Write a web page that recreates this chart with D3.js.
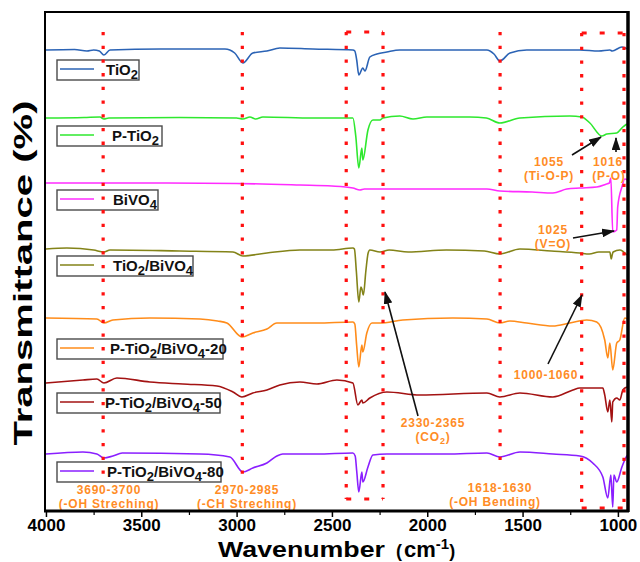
<!DOCTYPE html>
<html>
<head>
<meta charset="utf-8">
<script src="https://cdn.jsdelivr.net/npm/d3@7"></script>
<style>
  body { margin: 0; background: #fff; }
  svg { display: block; }
  text { font-family: "Liberation Sans", Arial, Helvetica, sans-serif; font-weight: bold; }
</style>
</head>
<body>
<svg id="chart" width="640" height="562"></svg>
<script>
// ---- data: FTIR spectra, [wavenumber (cm-1), stacked transmittance (a.u.)] ----
const wavenumberTicks = [4000, 3500, 3000, 2500, 2000, 1500, 1000];
const minorTicks = [3750, 3250, 2750, 2250, 1750, 1250];

const seriesNames = ["TiO_2", "P-TiO_2", "BiVO_4", "TiO_2/BiVO_4",
  "P-TiO_2/BiVO_4-20", "P-TiO_2/BiVO_4-50", "P-TiO_2/BiVO_4-80"];

const tio2 = [[4000,461],[3850,461.5],[3785,460],[3750,461],[3720,460],[3696,456],[3664,461],[3400,462],
  [3061,462],[3010,458],[2967,448],[2915,458],[2841,460],[2773,463],[2600,462],[2390,461],[2380,460],
  [2370,451],[2359,436],[2338,443],[2327,440],[2301,454],[2264,457],[2212,459],[2144,461],[1900,461],
  [1687,461],[1650,457],[1619,450],[1566,458],[1478,461],[1200,461],[1100,460],[1042,461],[1030,460],
  [979,464],[948,462]];

const pTio2 = [[4000,393],[3800,393.5],[3717,394],[3696,392],[3670,393],[3300,393.5],[3000,393],[2967,392],
  [2930,394],[2900,392],[2862,394],[2600,393],[2390,393],[2375,375],[2359,343],[2343,363],[2338,351],
  [2311,381],[2285,391],[2248,391],[2233,393],[2144,395],[2075,392],[2002,394],[1777,394],[1690,393],
  [1619,388],[1514,393],[1252,395],[1189,394],[1147,388],[1084,375],[1058,377],[1006,378],[974,384],[953,387]];

const bivo4 = [[4000,328],[3500,328],[3000,327.5],[2668,326],[2500,325],[2390,323],[2353,321],[2330,322],
  [2039,322],[1687,322],[1619,320],[1450,319],[1341,318],[1268,322],[1200,323],[1111,324],[1060,327],
  [1045,328],[1037,333],[1027,279],[1006,281],[1001,304],[979,324],[964,332],[948,331]];

const tio2Bivo4 = [[4000,262],[3890,263],[3750,261],[3696,259],[3664,261],[3300,260],[3019,259],[2967,255],
  [2841,258],[2668,261],[2500,261],[2390,263],[2382,262],[2372,240],[2359,209],[2348,224],[2343,222],
  [2335,216],[2322,240],[2310,258],[2301,261],[2248,259],[2200,261],[2100,259],[1900,261],[1700,260],
  [1619,257],[1514,262],[1350,260],[1200,258],[1150,257],[1100,259],[1042,259],[1035,252],[1030,256],
  [1025,259],[990,261],[953,256]];

const pTio2Bivo4_20 = [[4000,193],[3733,192],[3696,188],[3649,191],[3455,193],[3192,192],[3100,190],
  [3051,188],[2972,174],[2915,178],[2841,182],[2789,188],[2720,188],[2579,188],[2390,189],[2380,187],
  [2370,165],[2359,144],[2343,166],[2338,159],[2317,178],[2290,188],[2248,188],[2128,191],[1866,193],
  [1687,192],[1619,188],[1567,190],[1478,188],[1341,185],[1252,188],[1163,191],[1111,189],[1069,171],
  [1053,153],[1042,168],[1027,141],[1006,168],[990,171],[964,193],[948,192]];

const pTio2Bivo4_50 = [[4000,128],[3806,131],[3733,132],[3696,128],[3628,133],[3455,129],[3282,127],
  [3103,125],[3019,119],[2972,114],[2915,118],[2841,121],[2773,126],[2668,129],[2579,127],[2474,131],
  [2390,128],[2364,106],[2343,111],[2338,108],[2301,113],[2212,119],[2039,116],[1687,118],[1619,114],
  [1514,118],[1341,114],[1236,121],[1200,123],[1079,123],[1069,116],[1053,99],[1042,111],[1032,89],
  [1027,109],[1006,113],[990,111],[974,121],[953,124]];

const pTio2Bivo4_80 = [[4000,57],[3806,59],[3733,57],[3696,53],[3649,55],[3600,58],[3192,57],[3035,54],
  [2967,39],[2915,43],[2841,48],[2789,55],[2758,57],[2579,57],[2390,58],[2378,55],[2370,40],[2359,19],
  [2343,39],[2338,29],[2311,44],[2285,56],[2212,57],[1900,57],[1687,58],[1619,54],[1514,59],[1341,57],
  [1200,55],[1132,48],[1079,34],[1053,13],[1037,36],[1027,4],[1021,36],[1006,29],[979,44],[953,55],[948,56]];

const spectra = [tio2, pTio2, bivo4, tio2Bivo4, pTio2Bivo4_20, pTio2Bivo4_50, pTio2Bivo4_80];

// band guides (wavenumbers)
const bandLines = [3700, 2970, 1618];
const bandBoxes = [[2425, 2232], [1190, 968]];

// ---- style & layout ----
const colors = ["#2b63b5", "#2ee82e", "#ff2bff", "#838318", "#ff8c1a", "#a31212", "#8a1fff"];
const annoColor = "#ff8c26";
const plot = { left: 45, right: 628, top: 12, bottom: 511 };

const svg = d3.select("#chart");
const x = d3.scaleLinear().domain([4005, 947]).range([plot.left, plot.right]);
const y = d3.scaleLinear().domain([0, 499]).range([plot.bottom, plot.top]);

// text with "_" marking a subscript character
function richText(sel, str, subSize, shift) {
  const parts = [];
  for (let i = 0; i < str.length; i++) {
    if (str[i] === "_") { parts.push({ t: str[i + 1], sub: true }); i++; }
    else if (parts.length && !parts[parts.length - 1].sub) parts[parts.length - 1].t += str[i];
    else parts.push({ t: str[i], sub: false });
  }
  let shifted = false;
  parts.forEach(p => {
    const ts = sel.append("tspan").text(p.t);
    if (p.sub) { ts.attr("font-size", subSize).attr("dy", shift); shifted = true; }
    else if (shifted) { ts.attr("dy", -shift); shifted = false; }
  });
  return sel;
}

const defs = svg.append("defs");
defs.append("clipPath").attr("id", "plotClip").append("rect")
  .attr("x", plot.left).attr("y", plot.top)
  .attr("width", plot.right - plot.left).attr("height", plot.bottom - plot.top);
defs.append("marker").attr("id", "arrowHead")
  .attr("viewBox", "0 0 12 8").attr("refX", 11).attr("refY", 4)
  .attr("markerUnits", "userSpaceOnUse").attr("markerWidth", 13).attr("markerHeight", 9)
  .attr("orient", "auto")
  .append("path").attr("d", "M0,0 L12,4 L0,8 Z").attr("fill", "#111");

// ---- spectra ----
const line = d3.line().x(d => x(d[0])).y(d => y(d[1])).curve(d3.curveMonotoneX);
svg.append("g").attr("clip-path", "url(#plotClip)")
  .selectAll("path").data(spectra).join("path")
  .attr("d", line).attr("fill", "none")
  .attr("stroke", (d, i) => colors[i]).attr("stroke-width", 1.6)
  .attr("stroke-linejoin", "round");

// ---- legend boxes ----
const legendTop = [60, 126, 190, 256, 339, 393, 462];
const legendWidth = [82, 105, 101, 136, 166, 163, 164];
const legendTextX = [106, 112, 113, 113, 110, 105, 107];
seriesNames.forEach((name, i) => {
  const g = svg.append("g");
  g.append("rect").attr("x", 57).attr("y", legendTop[i]).attr("width", legendWidth[i]).attr("height", 20)
    .attr("fill", "#fff").attr("stroke", "#4a4a4a").attr("stroke-width", 1.4);
  g.append("line").attr("x1", 60).attr("x2", 94).attr("y1", legendTop[i] + 9).attr("y2", legendTop[i] + 9)
    .attr("stroke", colors[i]).attr("stroke-width", 1.6);
  richText(g.append("text").attr("x", legendTextX[i]).attr("y", legendTop[i] + 15)
    .attr("font-size", 15).attr("fill", "#111"), name, 13, 4);
});

// ---- red dotted band guides (drawn over the legend boxes) ----
const guides = svg.append("g").attr("stroke", "#ff1010").attr("fill", "none");
const vDash = "3.3,10.4", hDash = "5,13";
const lineBottoms = [482, 482, 470];
bandLines.forEach((w, i) => {
  guides.append("line").attr("x1", x(w)).attr("x2", x(w))
    .attr("y1", 32).attr("y2", lineBottoms[i])
    .attr("stroke-width", 3.2).attr("stroke-dasharray", vDash);
});
const boxY = [[32, 499], [33, 508]];
bandBoxes.forEach(([w1, w2], i) => {
  const [t, b] = boxY[i];
  [w1, w2].forEach(w => guides.append("line").attr("x1", x(w)).attr("x2", x(w))
    .attr("y1", t).attr("y2", b).attr("stroke-width", 3.2).attr("stroke-dasharray", vDash));
  [t, b].forEach(yy => guides.append("line").attr("x1", x(w1)).attr("x2", x(w2))
    .attr("y1", yy).attr("y2", yy).attr("stroke-width", 3.2).attr("stroke-dasharray", hDash));
});

// ---- annotations ----
const annotations = [
  { x: 109, y: 494, t: "3690-3700" }, { x: 109, y: 508, t: "(-OH Streching)" },
  { x: 247, y: 494, t: "2970-2985" }, { x: 247, y: 508, t: "(-CH Streching)" },
  { x: 433, y: 427, t: "2330-2365" }, { x: 433, y: 441, t: "(CO_2)" },
  { x: 500, y: 492, t: "1618-1630" }, { x: 495, y: 506, t: "(-OH Bending)" },
  { x: 546, y: 379, t: "1000-1060" },
  { x: 549, y: 166, t: "1055" }, { x: 549, y: 180, t: "(Ti-O-P)" },
  { x: 608, y: 166, t: "1016" }, { x: 609, y: 180, t: "(P-O)" },
  { x: 553, y: 234, t: "1025" }, { x: 553, y: 248, t: "(V=O)" }
];
annotations.forEach(a => {
  richText(svg.append("text").attr("x", a.x).attr("y", a.y).attr("text-anchor", "middle")
    .attr("font-size", 12).attr("letter-spacing", 0.8).attr("fill", annoColor), a.t, 9, 2.5);
});

const arrows = [
  [572, 155, 601, 137], [616, 152, 616, 138], [573, 238, 614, 231],
  [548, 364, 582, 295], [418, 416, 385, 292]
];
svg.append("g").selectAll("line").data(arrows).join("line")
  .attr("x1", d => d[0]).attr("y1", d => d[1]).attr("x2", d => d[2]).attr("y2", d => d[3])
  .attr("stroke", "#111").attr("stroke-width", 1.6).attr("marker-end", "url(#arrowHead)");

// ---- frame & axis ----
svg.append("rect").attr("x", plot.left).attr("y", plot.top)
  .attr("width", plot.right - plot.left).attr("height", plot.bottom - plot.top)
  .attr("fill", "none").attr("stroke", "#000").attr("stroke-width", 2);
svg.append("line").attr("x1", plot.right).attr("x2", plot.right).attr("y1", plot.top - 1).attr("y2", plot.bottom + 1)
  .attr("stroke", "#000").attr("stroke-width", 3.5);
svg.append("line").attr("x1", plot.left - 1).attr("x2", plot.right + 1).attr("y1", plot.bottom).attr("y2", plot.bottom)
  .attr("stroke", "#000").attr("stroke-width", 3);

const xAxis = svg.append("g").attr("transform", `translate(0,${plot.bottom})`)
  .call(d3.axisBottom(x).tickValues(wavenumberTicks).tickSize(6).tickPadding(2).tickFormat(d3.format("d")));
xAxis.select(".domain").remove();
xAxis.selectAll(".tick line").attr("stroke", "#000").attr("stroke-width", 1.5);
xAxis.selectAll(".tick text").attr("font-size", 17).attr("fill", "#000")
  .attr("font-family", "'Liberation Sans', Arial, sans-serif").attr("font-weight", "bold");
const xMinor = svg.append("g").attr("transform", `translate(0,${plot.bottom})`)
  .call(d3.axisBottom(x).tickValues(minorTicks).tickSize(4).tickFormat(""));
xMinor.select(".domain").remove();
xMinor.selectAll(".tick line").attr("stroke", "#000").attr("stroke-width", 1.2);

// axis titles
svg.append("text").attr("x", 218).attr("y", 557).attr("font-size", 22).attr("fill", "#000")
  .attr("textLength", 167).attr("lengthAdjust", "spacingAndGlyphs").text("Wavenumber");
const unit = svg.append("text").attr("x", 396).attr("y", 557).attr("font-size", 22).attr("fill", "#000");
unit.append("tspan").attr("font-size", 18).text("(");
unit.append("tspan").attr("dx", 2).text("cm");
unit.append("tspan").attr("font-size", 15).attr("dy", -8).text("-1");
unit.append("tspan").attr("font-size", 18).attr("dy", 8).text(")");

svg.append("text").attr("transform", "translate(32,273) rotate(-90)")
  .attr("text-anchor", "middle").attr("font-size", 26).attr("fill", "#000")
  .attr("textLength", 345).attr("lengthAdjust", "spacingAndGlyphs")
  .text("Transmittance (%)");
</script>
</body>
</html>
